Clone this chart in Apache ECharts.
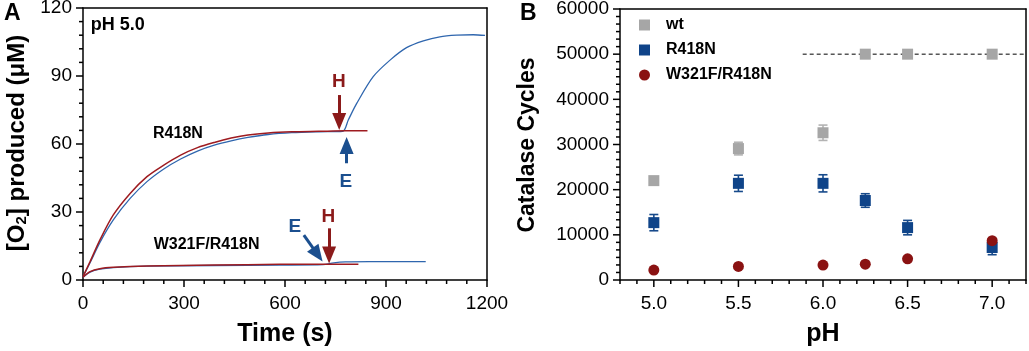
<!DOCTYPE html>
<html><head><meta charset="utf-8">
<script src="https://cdn.jsdelivr.net/npm/echarts@6/dist/echarts.min.js"></script>
<style>html,body{margin:0;padding:0;background:#fff}#c{width:1029px;height:351px}</style>
</head><body><div id="c"></div>
<script>
// ---------- Panel A: O2 traces (time s, uM) ----------
const r418nBlue = [[0,1.5],[21,7.6],[50,16.5],[90,26.5],[140,36.0],[190,43.4],[240,49.0],[290,53.4],[340,56.9],[390,59.5],[440,61.4],[490,62.9],[550,64.2],[620,65.0],[700,65.4],[771,65.6],[788,70.6],[813,77.9],[862,89.7],[912,97.0],[961,102.5],[1011,105.5],[1060,107.3],[1110,108.0],[1159,108.2],[1194,107.9]];
const r418nRed = [[0,1.5],[21,8.1],[50,17.6],[90,28.7],[140,38.2],[190,45.6],[240,50.7],[290,55.1],[340,58.4],[390,60.7],[440,62.6],[490,64.0],[550,64.9],[620,65.4],[700,65.6],[780,65.8],[845,65.8]];
const w321fBlue = [[0,1.2],[21,3.5],[50,4.8],[90,5.5],[190,6.1],[390,6.4],[585,6.6],[713,6.8],[745,7.6],[780,8.0],[850,8.1],[950,8.1],[1018,8.1]];
const w321fRed = [[0,1.2],[21,3.7],[50,5.0],[90,5.6],[190,6.2],[390,6.6],[585,6.9],[713,7.0],[818,7.0]];

// annotations (data coords of panel A)
const annotText  = ['pH 5.0','R418N','W321F/R418N','H','E','H','E'];
const annotTime  = [23, 282, 367, 760, 781, 729, 629];
const annotO2    = [112.5, 64.8, 15.7, 87.3, 43.2, 27.9, 23.5];
const annotColor = ['#000','#000','#000','#8b1a1a','#1b4f8f','#8b1a1a','#1b4f8f'];
// arrows: [time, O2] of tail and of arrow-head centre
const arrowFrom = [[761,81.6],[783,51.5],[731,22.8],[656,19.8]];
const arrowHead = [[761,69.9],[783,59.3],[731,11.0],[697,11.2]];
const arrowColor = ['#8b1a1a','#1b4f8f','#8b1a1a','#1b4f8f'];

// ---------- Panel B: catalase cycles vs pH ----------
const pH = [5.0, 5.5, 6.0, 6.25, 6.5, 7.0];
const wt = [22000, 29100, 32600, 50000, 50000, 50000];
const wtErr = [400, 1400, 1700, 0, 0, 0];
const r418n = [12700, 21400, 21400, 17600, 11600, 7200];
const r418nErr = [1800, 1800, 1900, 1500, 1600, 1600];
const w321f = [2200, 3000, 3300, 3500, 4700, 8700];
const limitLine = [[5.88, 50000], [7.2, 50000]];

const FF = 'Liberation Sans, Arial, sans-serif';
const chart = echarts.init(document.getElementById('c'), null, {renderer:'canvas'});

// tick positions along an axis: minor steps, flagged major every `per` steps (offset `off`)
function tickList(min, step, count, per, off){
  const out = [];
  for (let k = 0; k <= count; k++) out.push({v: +(min + k*step).toFixed(6), major: ((k + off) % per) === 0});
  return out;
}
const tA_x = tickList(0, 60, 20, 5, 0);
const tA_y = tickList(0, 6, 20, 5, 0);
const tB_x = tickList(4.8, 0.1, 24, 5, 3);
const tB_y = tickList(0, 10000/6, 36, 6, 0);

function tickSeries(ticks, dir, xi, yi, base){
  return {type:'custom', xAxisIndex:xi, yAxisIndex:yi, silent:true, clip:false, z:10,
    data: ticks.map(t => dir === 'x' ? [t.v, base, t.major ? 7 : 4] : [base, t.v, t.major ? 7 : 4]),
    encode: {x:0, y:1},
    renderItem: function(params, api){
      const p = api.coord([api.value(0), api.value(1)]);
      const len = api.value(2);
      const shape = dir === 'x' ? {x1:p[0], y1:p[1], x2:p[0], y2:p[1]+len}
                                : {x1:p[0]-len, y1:p[1], x2:p[0], y2:p[1]};
      return {type:'line', shape:shape, style:{stroke:'#000', lineWidth:1.5}};
    }};
}

function errData(v, e){ return pH.map((p,i)=>[p, v[i]-e[i], v[i]+e[i]]); }
function errRender(color){
  return function(params, api){
    const x = api.value(0), lo = api.value(1), hi = api.value(2);
    if (hi - lo <= 0) return;
    const a = api.coord([x, lo]), b = api.coord([x, hi]);
    const w = 4.5;
    const st = {stroke: color, lineWidth: 1.6};
    return {type:'group', children:[
      {type:'line', shape:{x1:a[0],y1:a[1],x2:b[0],y2:b[1]}, style:st},
      {type:'line', shape:{x1:a[0]-w,y1:a[1],x2:a[0]+w,y2:a[1]}, style:st},
      {type:'line', shape:{x1:b[0]-w,y1:b[1],x2:b[0]+w,y2:b[1]}, style:st}
    ]};
  };
}

const aLine = () => ({show:true, onZero:false, lineStyle:{color:'#000', width:1.5}});
const aLbl = (m) => ({show:true, margin:m, color:'#000', fontSize:19, fontFamily:FF, formatter:v=>String(v)});
const frameAxis = (grid, pos, min, max) => ({gridIndex:grid, type:'value', position:pos, min:min, max:max,
  axisLine:aLine(), axisTick:{show:false}, axisLabel:{show:false}, splitLine:{show:false}});
const titleFont = (s) => 'bold ' + s + 'px ' + FF;
const pHFormatter = v => { const r = Math.round(v * 10); return r % 5 === 0 ? (r / 10).toFixed(1) : ''; };

const annotData = annotText.map((t,i)=>({
  value:[annotTime[i], annotO2[i]], name:t,
  label:{show:true, formatter:t, position:'inside', color:annotColor[i], textBorderWidth:0,
    align: i===0 ? 'left' : 'center',
    fontSize: i===0 ? 18 : (i<3 ? 16 : 19), fontWeight:'bold', fontFamily:FF}
}));
const arrowData = arrowFrom.map((f,i)=>[
  {coord:f, lineStyle:{color:arrowColor[i], width:3, type:'solid', opacity:1}, itemStyle:{color:arrowColor[i], opacity:1}, symbol:'none'},
  {coord:arrowHead[i], symbol:'triangle', itemStyle:{color:arrowColor[i], opacity:1}}
]);

chart.setOption({
  animation:false,
  grid:[
    {left:83, top:8, width:404, height:272, outerBoundsMode:'none', containLabel:false},
    {left:620, top:9, width:406, height:271, outerBoundsMode:'none', containLabel:false}
  ],
  graphic:[
    {type:'text', left:4, top:2, style:{text:'A', font:titleFont(23), fill:'#000'}},
    {type:'text', left:520, top:2, style:{text:'B', font:titleFont(23), fill:'#000'}},
    {type:'text', x:285, y:334, style:{text:'Time (s)', font:titleFont(25), fill:'#000', align:'center', verticalAlign:'middle'}},
    {type:'text', x:823, y:334, style:{text:'pH', font:titleFont(25), fill:'#000', align:'center', verticalAlign:'middle'}},
    {type:'text', x:17, y:143, rotation:Math.PI/2, style:{text:'[O{sub|2}] produced (\u03bcM)', font:titleFont(24), fill:'#000', align:'center', verticalAlign:'middle',
      rich:{sub:{font:titleFont(15), fill:'#000', padding:[10,0,0,0]}}}},
    {type:'text', x:528, y:145, rotation:Math.PI/2, style:{text:'Catalase Cycles', font:titleFont(23), fill:'#000', align:'center', verticalAlign:'middle'}}
  ],
  legend:{
    data:['wt','R418N','W321F/R418N'], orient:'vertical', left:634, top:12,
    itemWidth:11, itemHeight:11, itemGap:9,
    textStyle:{color:'#000', fontSize:16, fontWeight:'bold', fontFamily:FF, padding:[0,0,0,11]}
  },
  xAxis:[
    {gridIndex:0, type:'value', min:0, max:1200, interval:300,
      axisLine:aLine(), axisTick:{show:false}, minorTick:{show:false},
      splitLine:{show:false}, axisLabel:aLbl(14)},
    {gridIndex:1, type:'value', min:4.8, max:7.2, interval:0.1,
      axisLine:aLine(), axisTick:{show:false}, minorTick:{show:false},
      splitLine:{show:false}, axisLabel:Object.assign(aLbl(14), {formatter:pHFormatter})},
    frameAxis(0, 'top', 0, 1200),
    frameAxis(1, 'top', 4.8, 7.2)
  ],
  yAxis:[
    {gridIndex:0, type:'value', min:0, max:120, interval:30,
      axisLine:aLine(), axisTick:{show:false}, minorTick:{show:false},
      splitLine:{show:false}, axisLabel:aLbl(11)},
    {gridIndex:1, type:'value', min:0, max:60000, interval:10000,
      axisLine:aLine(), axisTick:{show:false}, minorTick:{show:false},
      splitLine:{show:false}, axisLabel:aLbl(11)},
    frameAxis(0, 'right', 0, 120),
    frameAxis(1, 'right', 0, 60000)
  ],
  series:[
    {name:'A R418N blue', type:'line', xAxisIndex:0, yAxisIndex:0, data:r418nBlue, showSymbol:false, smooth:0.3, lineStyle:{color:'#2f66ae', width:1.3}, z:2},
    {name:'A W321F blue', type:'line', xAxisIndex:0, yAxisIndex:0, data:w321fBlue, showSymbol:false, smooth:0.3, lineStyle:{color:'#2f66ae', width:1.3}, z:2},
    {name:'A R418N red', type:'line', xAxisIndex:0, yAxisIndex:0, data:r418nRed, showSymbol:false, smooth:0.3, lineStyle:{color:'#9e1b20', width:1.5}, z:3},
    {name:'A W321F red', type:'line', xAxisIndex:0, yAxisIndex:0, data:w321fRed, showSymbol:false, smooth:0.3, lineStyle:{color:'#9e1b20', width:1.5}, z:3},
    {name:'annot', type:'scatter', xAxisIndex:0, yAxisIndex:0, symbolSize:0, data:annotData, z:5,
      itemStyle:{opacity:1},
      markLine:{silent:true, symbolSize:[14,17], symbol:['none','triangle'], label:{show:false}, data:arrowData, animation:false}},
    tickSeries(tA_x, 'x', 0, 0, 0),
    tickSeries(tA_y, 'y', 0, 0, 0),
    tickSeries(tB_x, 'x', 1, 1, 0),
    tickSeries(tB_y, 'y', 1, 1, 4.8),
    {name:'limit', type:'line', xAxisIndex:1, yAxisIndex:1, data:limitLine, showSymbol:false,
      lineStyle:{color:'#000', width:1, type:[4,3]}, z:1},
    {name:'wtErr', type:'custom', xAxisIndex:1, yAxisIndex:1, data:errData(wt, wtErr), renderItem:errRender('#b3b3b3'), encode:{x:0, y:[1,2]}, z:2},
    {name:'r418nErr', type:'custom', xAxisIndex:1, yAxisIndex:1, data:errData(r418n, r418nErr), renderItem:errRender('#174a8b'), encode:{x:0, y:[1,2]}, z:2},
    {name:'wt', type:'scatter', xAxisIndex:1, yAxisIndex:1, data:pH.map((p,i)=>[p,wt[i]]), symbol:'rect', symbolSize:11, itemStyle:{color:'#a6a6a6', opacity:1}, z:3},
    {name:'R418N', type:'scatter', xAxisIndex:1, yAxisIndex:1, data:pH.map((p,i)=>[p,r418n[i]]), symbol:'rect', symbolSize:11, itemStyle:{color:'#0f4489', opacity:1}, z:3},
    {name:'W321F/R418N', type:'scatter', xAxisIndex:1, yAxisIndex:1, data:pH.map((p,i)=>[p,w321f[i]]), symbol:'circle', symbolSize:11, itemStyle:{color:'#8a1212', opacity:1}, z:4}
  ]
});
</script></body></html>
